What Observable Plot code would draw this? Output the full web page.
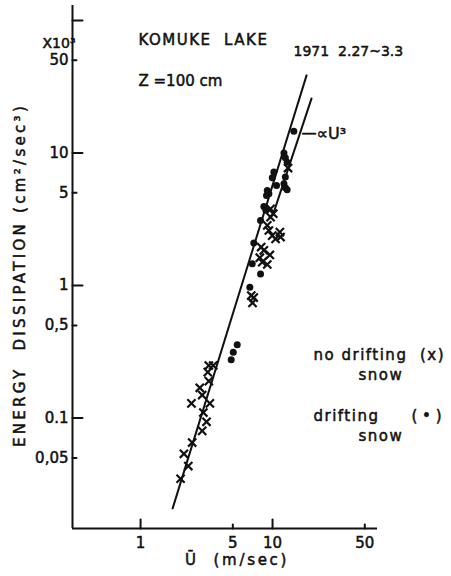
<!DOCTYPE html>
<html><head><meta charset="utf-8">
<script src="https://cdn.jsdelivr.net/npm/d3@7"></script>
<script src="https://cdn.jsdelivr.net/npm/@observablehq/plot@0.6"></script>
<style>
body{margin:0;background:#fff}
svg{font-family:"DejaVu Sans",sans-serif}
</style>
</head><body><div id="chart"></div>
<script>
// No drifting snow (x): wind speed U (m/s) and energy dissipation (x10^3 cm^2/s^3)
const noDriftU = [3.29,3.55,3.23,3.29,2.81,2.93,2.43,3.35,2.99,3.16,2.93,2.46,2.13,2.30,2.01,
                  6.9,7.2,7.05,8.2,8.59,9.54,8.01,8.36,9.12,9.12,9.38,9.95,10.54,11.36,11.5,9.66,10.12,9.66,13.1];
const noDriftE = [0.249,0.249,0.222,0.190,0.169,0.149,0.129,0.129,0.110,0.0936,0.080,0.0653,0.0537,0.0434,0.0348,
                  0.84,0.81,0.74,1.95,1.84,1.70,1.62,1.50,1.44,2.84,2.60,2.38,2.25,2.53,2.32,3.79,3.48,3.28,7.7];
// Drifting snow (dots)
const driftU = [14.5,12.2,12.5,12.9,10.23,9.95,12.5,12.2,12.5,12.9,10.72,9.12,9.38,9.0,8.59,8.9,8.11,7.21,7.02,8.11,6.73,5.40,5.04,4.86];
const driftE = [14.6,10.0,9.2,8.5,7.2,6.5,6.6,5.86,5.46,5.28,5.69,5.21,4.92,4.78,3.95,3.7,3.09,2.09,1.46,1.22,0.97,0.357,0.314,0.275];
// Fitted line and the proportional-to-U^3 line
const fitU = [1.75, 18.1];
const fitE = [0.0208, 38.5];
const cubeU = [10.3, 19.75];
const cubeE = [3.66, 25.8];
// Axes
const xDomain = [0.305, 62.4];
const yDomain = [0.01466, 129.7];
const xTickValues = [1, 5, 10, 50];
const xTickLabels = ["1", "5", "10", "50"];
const xMajor = [1, 10];
const xMinor = [5, 50];
const yTickValues = [0.05, 0.1, 0.5, 1, 5, 10, 50];
const yTickLabels = ["0,05", "0.1", "0,5", "1", "5", "10", "50"];
const yMajor = [0.1, 1, 10, 100];
const yMinor = [0.05, 0.5, 5, 50];

const noDrift = noDriftU.map((u, i) => ({u, e: noDriftE[i]}));
const drift = driftU.map((u, i) => ({u, e: driftE[i]}));
const fit = fitU.map((u, i) => ({u, e: fitE[i]}));
const cube = cubeU.map((u, i) => ({u, e: cubeE[i]}));

const tickShape = {draw(ctx, l) { ctx.moveTo(0, 0); ctx.lineTo(0, -l); }};
const ink = "#111";
const T = {fill: ink, stroke: ink, strokeWidth: 0.5};
const note = (s, dx, dy, extra = {}) =>
  Plot.text([s], {frameAnchor: "top-left", dx, dy, textAnchor: "start", fontSize: 15, ...T, ...extra});

const yLabel = "ENERGY  DISSIPATION (cm²/sec³)";
const xLabel = "Ū  (m/sec)";

const chart = Plot.plot({
  width: 451, height: 576,
  marginLeft: 72, marginRight: 74, marginTop: 5, marginBottom: 48,
  x: {type: "log", domain: xDomain, axis: null},
  y: {type: "log", domain: yDomain, axis: null},
  style: {background: "#fff", color: ink},
  marks: [
    Plot.ruleX([xDomain[0]], {stroke: ink, strokeWidth: 2}),
    Plot.ruleY([yDomain[0]], {stroke: ink, strokeWidth: 2}),
    Plot.vector(yMajor, {y: d => d, frameAnchor: "left", anchor: "start", rotate: 90, length: 10, shape: tickShape, stroke: ink, strokeWidth: 2}),
    Plot.vector(yMinor, {y: d => d, frameAnchor: "left", anchor: "start", rotate: 90, length: 4, shape: tickShape, stroke: ink, strokeWidth: 2}),
    Plot.vector(xMajor, {x: d => d, frameAnchor: "bottom", anchor: "start", rotate: 0, length: 9, shape: tickShape, stroke: ink, strokeWidth: 2}),
    Plot.vector(xMinor, {x: d => d, frameAnchor: "bottom", anchor: "start", rotate: 0, length: 4, shape: tickShape, stroke: ink, strokeWidth: 2}),
    Plot.text(xTickValues, {x: d => d, text: (d, i) => xTickLabels[i], frameAnchor: "bottom", dy: 19, textAnchor: "middle", fontSize: 15, ...T}),
    Plot.text(yTickValues, {y: d => d, text: (d, i) => yTickLabels[i], frameAnchor: "left", dx: -4, textAnchor: "end", fontSize: 15, ...T}),
    Plot.line(fit, {x: "u", y: "e", stroke: ink, strokeWidth: 2}),
    Plot.line(cube, {x: "u", y: "e", stroke: ink, strokeWidth: 2}),
    Plot.dot(noDrift, {x: "u", y: "e", symbol: "times", r: 3.8, stroke: ink, strokeWidth: 2.2}),
    Plot.dot(drift, {x: "u", y: "e", r: 3.5, fill: ink, stroke: "none"}),
    note("KOMUKE  LAKE", 66, 29),
    note("Z =100 cm", 66, 70),
    note("1971  2.27~3.3", 221, 41, {fontSize: 14}),
    note("X10³", -30, 33, {fontSize: 14}),
    note("—", 229, 122),
    note("∝U³", 244, 122, {fontSize: 16}),
    note("no drifting  (x)", 241, 344),
    note("snow", 286, 364),
    note("drifting", 241, 405),
    note("( • )", 339, 405),
    note("snow", 286, 425),
    Plot.text([yLabel], {frameAnchor: "left", dx: -52, dy: 8, rotate: -90, textAnchor: "middle", fontSize: 15, ...T}),
    Plot.text([xLabel], {frameAnchor: "bottom", dx: 12, dy: 36, textAnchor: "middle", fontSize: 15, ...T})
  ]
});
const spacing = new Map([
  [yLabel, "3.3px"], [xLabel, "2.7px"], ["KOMUKE  LAKE", "1.5px"],
  ["no drifting  (x)", "1.5px"], ["snow", "1.5px"], ["drifting", "1.5px"]
]);
d3.select(chart).selectAll("text").each(function () {
  const s = spacing.get(this.textContent);
  if (s) this.style.letterSpacing = s;
});
document.getElementById("chart").append(chart);
</script>
</body></html>
